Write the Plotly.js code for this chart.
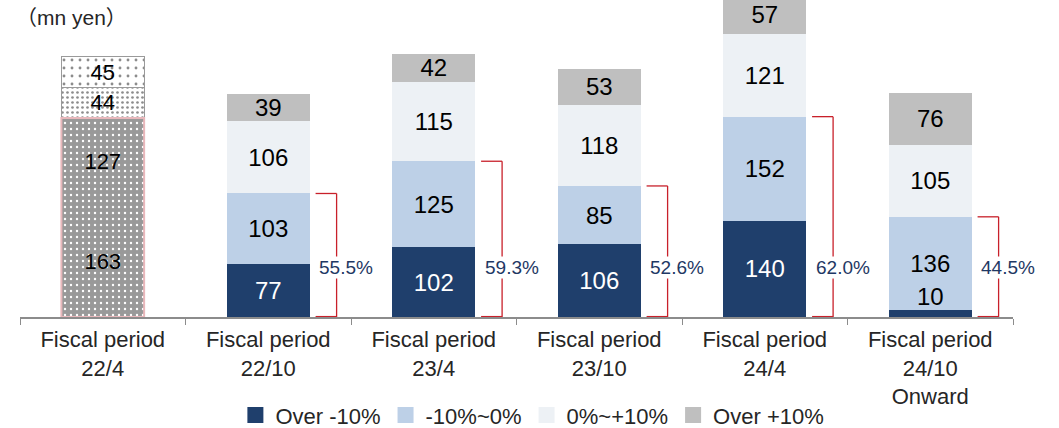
<!DOCTYPE html>
<html>
<head>
<meta charset="utf-8">
<script src="https://cdn.plot.ly/plotly-3.0.1.min.js"></script>
<style>html,body{margin:0;padding:0;background:#fff;}#chart{width:1059px;height:428px;}</style>
</head>
<body>
<div id="chart"></div>
<script>
// ---- data ----
const categories = ["Fiscal period<br>22/4", "Fiscal period<br>22/10", "Fiscal period<br>23/4", "Fiscal period<br>23/10", "Fiscal period<br>24/4", "Fiscal period<br>24/10<br>Onward"];
const seriesNames = ["Over -10%", "-10%~0%", "0%~+10%", "Over +10%"];
// first period (patterned bar), bottom to top
const firstPeriod = [163, 127, 44, 45];
// later periods
const overMinus10 = [77, 102, 106, 140, 10];
const minus10to0 = [103, 125, 85, 152, 136];
const zeroToPlus10 = [106, 115, 118, 121, 105];
const overPlus10 = [39, 42, 53, 57, 76];
const shareLabels = ["55.5%", "59.3%", "52.6%", "62.0%", "44.5%"];
const unitLabel = "（mn yen）";

// ---- styles ----
const colors = ["#1F3F6C", "#BDD0E7", "#EDF1F5", "#BFBFBF"];
const textColors = ["#FFFFFF", "#000000", "#000000", "#000000"];
const FONT = "Liberation Sans, Arial, sans-serif";

const laterCats = categories.slice(1);
const laterSeries = [overMinus10, minus10to0, zeroToPlus10, overPlus10];

const firstPatterns = [
  {shape: ".", bgcolor: "#999999", fgcolor: "#FFFFFF", size: 6, solidity: 0.12},
  {shape: ".", bgcolor: "#999999", fgcolor: "#FFFFFF", size: 6, solidity: 0.12},
  {shape: ".", bgcolor: "#FFFFFF", fgcolor: "#8C8C8C", size: 5, solidity: 0.22},
  {shape: ".", bgcolor: "#FFFFFF", fgcolor: "#8C8C8C", size: 8, solidity: 0.1}
];

const traces = [];
// patterned first bar
firstPeriod.forEach((v, i) => {
  const f = {family: FONT, size: 22, color: "#000000"};
  traces.push({
    type: "bar", x: [categories[0]], y: [v], showlegend: false, hoverinfo: "skip",
    text: [String(v)], textposition: "inside", insidetextanchor: "middle",
    constraintext: "none", textangle: 0, textfont: f, insidetextfont: f,
    marker: {color: "#FFFFFF", pattern: firstPatterns[i],
      line: {color: i >= 2 ? "#9A9A9A" : "rgba(0,0,0,0)", width: i >= 2 ? 1 : 0}}
  });
});
// main series
laterSeries.forEach((vals, s) => {
  const f = {family: FONT, size: 24, color: textColors[s]};
  traces.push({
    type: "bar", name: seriesNames[s], x: laterCats, y: vals, showlegend: false,
    text: vals.map(v => v < 20 ? "" : String(v)),
    textposition: "inside", insidetextanchor: "middle", constraintext: "none", textangle: 0,
    textfont: f, insidetextfont: f,
    marker: {color: colors[s], line: {width: 0}},
    hoverinfo: "skip"
  });
});
// legend entries (square swatches)
seriesNames.forEach((n, s) => {
  traces.push({type: "scatter", mode: "markers", name: n, x: [null], y: [null],
    marker: {symbol: "square", size: 16, color: colors[s]}, hoverinfo: "skip"});
});

const shapes = [];
// pink outline around the lower two segments of the first bar
shapes.push({type: "rect", xref: "x", yref: "y", x0: -0.25, x1: 0.25, y0: 0,
  y1: firstPeriod[0] + firstPeriod[1], line: {color: "#E8B7BB", width: 2}});

const annotations = [];
const bx0 = 0.286, bx1 = 0.413;
laterCats.forEach((c, k) => {
  const i = k + 1;
  const top = overMinus10[k] + minus10to0[k];
  const red = "#C8202A";
  shapes.push({type: "line", xref: "x", yref: "y", x0: i + bx0, x1: i + bx1, y0: top, y1: top, line: {color: red, width: 1.3}});
  shapes.push({type: "line", xref: "x", yref: "y", x0: i + bx1, x1: i + bx1, y0: top, y1: 0, line: {color: red, width: 1.3}});
  shapes.push({type: "line", xref: "x", yref: "y", x0: i + bx1, x1: i + bx0, y0: 0.6, y1: 0.6, line: {color: red, width: 1.3}});
  annotations.push({xref: "x", yref: "y", x: i + 0.47, y: 72, text: shareLabels[k], showarrow: false,
    font: {family: FONT, size: 19, color: "#1F3864"}, bgcolor: "#FFFFFF", borderpad: 0});
  if (overMinus10[k] < 20) {
    annotations.push({xref: "x", yref: "y", x: c, y: overMinus10[k], text: String(overMinus10[k]),
      showarrow: false, yanchor: "bottom", yshift: -2, font: {family: FONT, size: 24, color: "#000000"}});
  }
});
annotations.push({xref: "paper", yref: "paper", x: -0.006, y: 0.946, xanchor: "left", yanchor: "middle",
  text: unitLabel, showarrow: false, font: {family: "Liberation Sans, Noto Sans CJK JP, sans-serif", size: 21, color: "#262626"}});

const layout = {
  width: 1059, height: 428,
  margin: {l: 20, r: 46, t: 0, b: 111, pad: 0, autoexpand: false},
  paper_bgcolor: "#FFFFFF", plot_bgcolor: "#FFFFFF",
  barmode: "stack", bargap: 0.5,
  showlegend: true,
  legend: {orientation: "h", x: 0.516, xanchor: "center", yref: "container", y: 0.03, yanchor: "middle",
    font: {family: FONT, size: 22, color: "#262626"}, traceorder: "normal"},
  xaxis: {type: "category", categoryorder: "array", categoryarray: categories,
    range: [-0.5, 5.5], tickson: "boundaries", ticks: "outside", ticklen: 6, tickcolor: "#8C8C8C",
    ticklabelstandoff: 2,
    showline: true, linecolor: "#8C8C8C", linewidth: 1.5, showgrid: false, zeroline: false,
    tickfont: {family: FONT, size: 22, color: "#262626"}, fixedrange: true, automargin: false},
  yaxis: {range: [0, 462], visible: false, showgrid: false, zeroline: false, fixedrange: true, automargin: false},
  shapes: shapes,
  annotations: annotations,
  font: {family: FONT}
};

Plotly.newPlot("chart", traces, layout, {displayModeBar: false, staticPlot: true});
</script>
</body>
</html>
